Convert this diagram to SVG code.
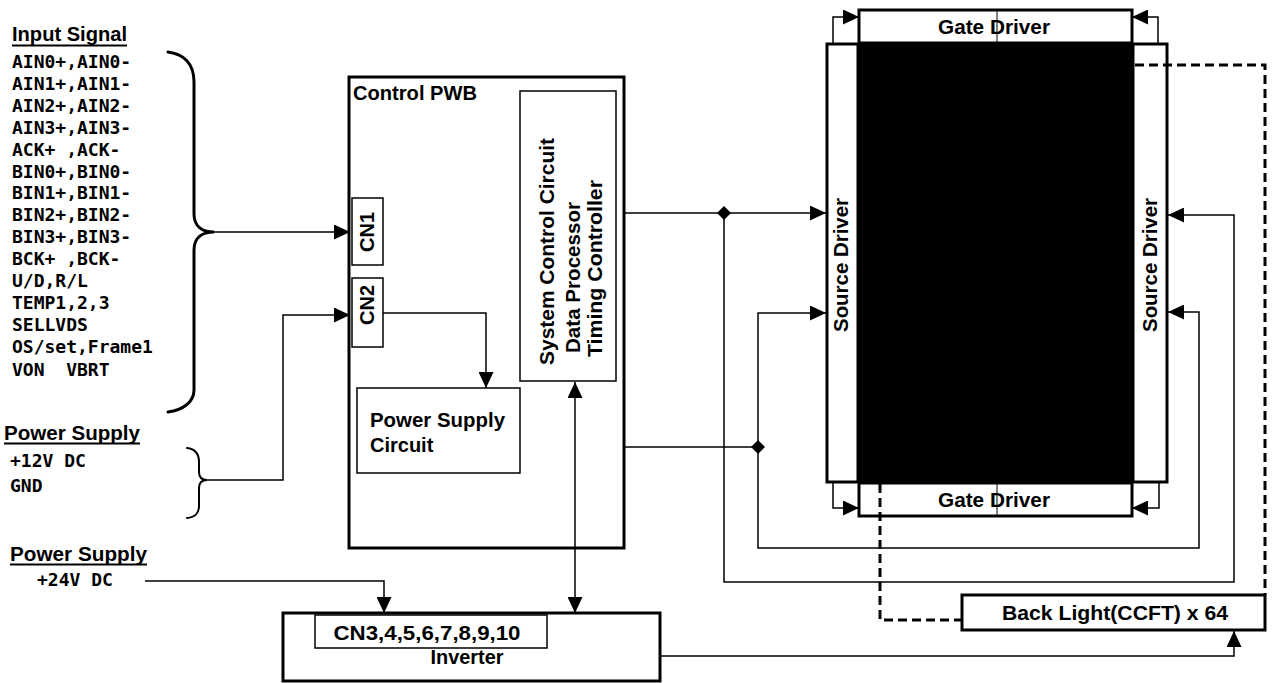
<svg xmlns="http://www.w3.org/2000/svg" width="1272" height="683" viewBox="0 0 1272 683">
<defs>
<marker id="ah" markerUnits="userSpaceOnUse" markerWidth="17" markerHeight="15" refX="16" refY="7.5" orient="auto-start-reverse" viewBox="0 0 17 15">
<path d="M0,0 L16,7.5 L0,15 z" fill="#000"/>
</marker>
<style>
.mono{font-family:"DejaVu Sans Mono","Liberation Mono",monospace;font-weight:bold;font-size:18px;fill:#000}
.lbl{font-family:"Liberation Sans",Arial,sans-serif;font-weight:bold;font-size:20px;fill:#000}
.thick{fill:#fff;stroke:#000;stroke-width:3}
.thin{fill:#fff;stroke:#000;stroke-width:1.5}
.wire{fill:none;stroke:#000;stroke-width:1.5}
.brace{fill:none;stroke:#000;stroke-width:3;stroke-linecap:round}
.dash{fill:none;stroke:#000;stroke-width:3;stroke-dasharray:9 5}
.arr{marker-end:url(#ah)}
</style>
</defs>
<rect width="1272" height="683" fill="#fff"/>

<g id="input-signal">
<text class="lbl" x="12" y="41" textLength="115" lengthAdjust="spacingAndGlyphs" font-size="18">Input Signal</text>
<line x1="12" y1="45.5" x2="127" y2="45.5" stroke="#000" stroke-width="2"/>
<text class="mono" x="12" y="68">AIN0+,AIN0-</text>
<text class="mono" x="12" y="90">AIN1+,AIN1-</text>
<text class="mono" x="12" y="112">AIN2+,AIN2-</text>
<text class="mono" x="12" y="134">AIN3+,AIN3-</text>
<text class="mono" x="12" y="156">ACK+&#160;,ACK-</text>
<text class="mono" x="12" y="178">BIN0+,BIN0-</text>
<text class="mono" x="12" y="199">BIN1+,BIN1-</text>
<text class="mono" x="12" y="221">BIN2+,BIN2-</text>
<text class="mono" x="12" y="243">BIN3+,BIN3-</text>
<text class="mono" x="12" y="265">BCK+&#160;,BCK-</text>
<text class="mono" x="12" y="287">U/D,R/L</text>
<text class="mono" x="12" y="309">TEMP1,2,3</text>
<text class="mono" x="12" y="331">SELLVDS</text>
<text class="mono" x="12" y="353">OS/set,Frame1</text>
<text class="mono" x="12" y="376">VON&#160;&#160;VBRT</text>
<path class="brace" d="M168,52 C183,54 194,63 194,82 L194,214 C194,226 202,232 214,232 C202,232 194,238 194,250 L194,390 C194,402 183,410 168,412"/>
</g>

<g id="power-supply-12v">
<text class="lbl" x="4" y="440" textLength="136" lengthAdjust="spacingAndGlyphs">Power Supply</text>
<line x1="4" y1="443.5" x2="140" y2="443.5" stroke="#000" stroke-width="2"/>
<text class="mono" x="10" y="467">+12V DC</text>
<text class="mono" x="10" y="492">GND</text>
<path class="brace" style="stroke-width:2" d="M187,448 C195,449 199,453 199,462 L199,472 C199,477 202,480 207,480 C202,480 199,483 199,488 L199,506 C199,514 195,517 187,518"/>
</g>

<g id="power-supply-24v">
<text class="lbl" x="10" y="561" textLength="137" lengthAdjust="spacingAndGlyphs">Power Supply</text>
<line x1="10" y1="564.5" x2="147" y2="564.5" stroke="#000" stroke-width="2"/>
<text class="mono" x="37" y="586">+24V DC</text>
</g>

<g id="control-pwb">
<rect class="thick" x="349" y="77" width="275" height="471"/>
<text class="lbl" x="353" y="100" textLength="124" lengthAdjust="spacingAndGlyphs">Control PWB</text>
</g>

<g id="cn1">
<rect class="thin" x="352" y="198" width="31" height="67"/>
<text class="lbl" transform="translate(374,232) rotate(-90)" text-anchor="middle" font-size="19">CN1</text>
</g>

<g id="cn2">
<rect class="thin" x="352" y="278" width="31" height="69"/>
<text class="lbl" transform="translate(374,305) rotate(-90)" text-anchor="middle" font-size="19">CN2</text>
</g>

<g id="power-supply-circuit">
<rect class="thin" x="357" y="388" width="163" height="85"/>
<text class="lbl" x="370" y="427" textLength="135" lengthAdjust="spacingAndGlyphs">Power Supply</text>
<text class="lbl" x="370" y="452">Circuit</text>
</g>

<g id="system-control">
<rect class="thin" x="520" y="91" width="96" height="290"/>
<text class="lbl" transform="translate(554,365) rotate(-90)" textLength="227" lengthAdjust="spacingAndGlyphs">System Control Circuit</text>
<text class="lbl" transform="translate(580,353) rotate(-90)" textLength="151" lengthAdjust="spacingAndGlyphs">Data Processor</text>
<text class="lbl" transform="translate(602,357) rotate(-90)" textLength="177" lengthAdjust="spacingAndGlyphs">Timing Controller</text>
</g>

<g id="panel">
<rect x="858" y="44" width="275" height="438" fill="#000"/>
</g>

<g id="source-driver-left">
<rect class="thick" x="827" y="44" width="31" height="438"/>
<text class="lbl" transform="translate(848,265) rotate(-90)" text-anchor="middle" textLength="134" lengthAdjust="spacingAndGlyphs">Source Driver</text>
</g>

<g id="source-driver-right">
<rect class="thick" x="1133" y="44" width="34" height="438"/>
<text class="lbl" transform="translate(1157,265) rotate(-90)" text-anchor="middle" textLength="134" lengthAdjust="spacingAndGlyphs">Source Driver</text>
</g>

<g id="gate-driver-top">
<rect class="thick" x="859" y="10" width="273" height="33"/>
<line x1="997" y1="11" x2="997" y2="42" stroke="#000" stroke-width="1"/>
<text class="lbl" x="994" y="34" text-anchor="middle" textLength="112" lengthAdjust="spacingAndGlyphs">Gate Driver</text>
</g>

<g id="gate-driver-bottom">
<rect class="thick" x="859" y="483" width="273" height="33"/>
<line x1="997" y1="484" x2="997" y2="515" stroke="#000" stroke-width="1"/>
<text class="lbl" x="994" y="507" text-anchor="middle" textLength="112" lengthAdjust="spacingAndGlyphs">Gate Driver</text>
</g>

<g id="back-light">
<rect class="thick" x="962" y="595" width="303" height="35"/>
<text class="lbl" x="1115" y="620" text-anchor="middle" textLength="226" lengthAdjust="spacingAndGlyphs">Back Light(CCFT) x 64</text>
</g>

<g id="inverter">
<rect class="thick" x="283" y="613" width="377" height="68"/>
<rect class="thin" x="315" y="615" width="232" height="33"/>
<text class="lbl" x="427" y="640" text-anchor="middle" textLength="187" lengthAdjust="spacingAndGlyphs">CN3,4,5,6,7,8,9,10</text>
<text class="lbl" x="467" y="664" text-anchor="middle" textLength="73" lengthAdjust="spacingAndGlyphs">Inverter</text>
</g>

<g id="connectors">
<path class="wire arr" d="M214,232 H350"/>
<path class="wire arr" d="M207,480 H283 V315 H350"/>
<path class="wire arr" d="M383,313 H486 V388"/>
<path class="wire arr" d="M145,581 H384 V613"/>
<path class="wire" d="M575,382 V613" marker-start="url(#ah)" marker-end="url(#ah)"/>
<path class="wire arr" d="M624,213 H826"/>
<path class="wire arr" d="M724,213 V582 H1234 V215 H1168"/>
<path class="wire" d="M624,447 H758"/>
<path class="wire arr" d="M758,447 V313 H826"/>
<path class="wire arr" d="M758,447 V548 H1199 V312 H1168"/>
<path class="wire arr" d="M833,43 V17 H859"/>
<path class="wire arr" d="M1158,43 V17 H1132"/>
<path class="wire arr" d="M833,483 V508 H859"/>
<path class="wire arr" d="M1159,483 V508 H1132"/>
<path class="wire arr" d="M660,656 H1234 V631"/>
<path class="dash" d="M1135,65 H1265 V595"/>
<path class="dash" d="M880,484 V620 H962"/>
<path d="M724,206 L731,213 L724,220 L717,213 z" fill="#000"/>
<path d="M758,440 L765,447 L758,454 L751,447 z" fill="#000"/>
</g>
</svg>
